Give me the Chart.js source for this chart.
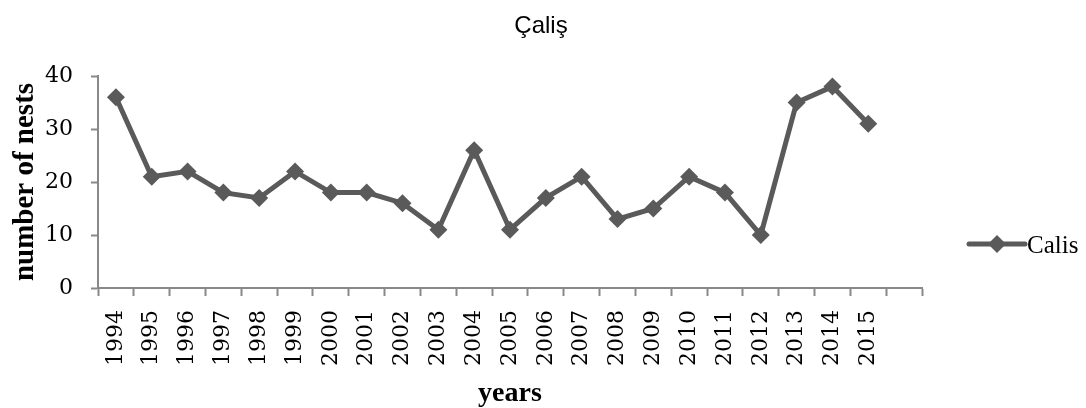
<!DOCTYPE html>
<html>
<head>
<meta charset="utf-8">
<title>Çaliş</title>
<script src="https://cdn.jsdelivr.net/npm/chart.js@4"></script>
<style>
  html, body { margin: 0; padding: 0; background: #ffffff; }
  #wrap { width: 1086px; height: 408px; position: relative; }
</style>
</head>
<body>
<div id="wrap"><canvas id="c" width="1086" height="408"></canvas></div>
<script>
// Nest counts per year at Çaliş beach
const years = ['1994','1995','1996','1997','1998','1999','2000','2001','2002','2003','2004',
               '2005','2006','2007','2008','2009','2010','2011','2012','2013','2014','2015',''];
const nests = [36, 21, 22, 18, 17, 22, 18, 18, 16, 11, 26,
               11, 17, 21, 13, 15, 21, 18, 10, 35, 38, 31, null];
const yTicks = [0, 10, 20, 30, 40];
const chartTitle = 'Çaliş';
const seriesName = 'Calis';

const tickFont = "'DejaVu Serif', serif";
const labelFont = "'Liberation Serif', 'Times New Roman', serif";
const lineColor = '#5a5a5a';
const axisColor = '#888888';

// Title centred on the page, legend entry (line + diamond + label) to the right of the plot
const decorations = {
  id: 'decorations',
  afterDraw(chart) {
    const ctx = chart.ctx;
    ctx.save();
    ctx.fillStyle = '#000000';
    ctx.font = "24px 'Liberation Sans', Arial, sans-serif";
    ctx.textAlign = 'center';
    ctx.textBaseline = 'middle';
    ctx.fillText(chartTitle, 541, 26);

    const y = 244;
    const x0 = 969, x1 = 1025;
    ctx.strokeStyle = lineColor;
    ctx.lineWidth = 5;
    ctx.lineCap = 'round';
    ctx.beginPath();
    ctx.moveTo(x0, y);
    ctx.lineTo(x1, y);
    ctx.stroke();
    ctx.fillStyle = lineColor;
    Chart.helpers.drawPoint(ctx, { pointStyle: 'rectRot', radius: 9, rotation: 0, borderWidth: 0 }, (x0 + x1) / 2, y);
    ctx.fillStyle = '#000000';
    ctx.font = "25px " + labelFont;
    ctx.textAlign = 'left';
    ctx.textBaseline = 'middle';
    ctx.fillText(seriesName, x1 + 2, y + 2);
    ctx.restore();
  }
};

new Chart(document.getElementById('c'), {
  type: 'line',
  data: {
    labels: years,
    datasets: [{
      label: seriesName,
      data: nests,
      borderColor: lineColor,
      backgroundColor: lineColor,
      borderWidth: 5,
      pointStyle: 'rectRot',
      pointRadius: 9,
      pointHoverRadius: 9,
      pointBorderWidth: 0,
      pointBackgroundColor: lineColor,
      tension: 0,
      spanGaps: false
    }]
  },
  options: {
    responsive: false,
    animation: false,
    devicePixelRatio: 1,
    layout: { padding: { left: 0, right: 164, top: 76, bottom: 0 } },
    plugins: {
      legend: { display: false },
      tooltip: { enabled: false },
      title: { display: false }
    },
    scales: {
      x: {
        type: 'category',
        offset: true,
        grid: {
          offset: true,
          drawOnChartArea: false,
          drawTicks: true,
          tickLength: 8,
          tickWidth: 2,
          color: axisColor
        },
        border: { display: true, color: axisColor, width: 2 },
        ticks: {
          color: '#000000',
          font: { family: tickFont, size: 22 },
          minRotation: 90,
          maxRotation: 90,
          autoSkip: false,
          padding: 14
        },
        title: {
          display: true,
          text: 'years',
          color: '#000000',
          font: { family: labelFont, size: 28, weight: 'bold', lineHeight: 1 },
          padding: { top: 0, bottom: 0 }
        },
        afterFit(scale) { scale.height = 120; }
      },
      y: {
        min: 0,
        max: 40,
        afterBuildTicks(scale) { scale.ticks = yTicks.map(v => ({ value: v })); },
        grid: {
          drawOnChartArea: false,
          drawTicks: true,
          tickLength: 7,
          tickWidth: 2,
          color: axisColor
        },
        border: { display: true, color: axisColor, width: 2 },
        ticks: {
          color: '#000000',
          font: { family: tickFont, size: 22 },
          padding: 18
        },
        title: {
          display: true,
          text: 'number of nests',
          color: '#000000',
          font: { family: labelFont, size: 29, weight: 'bold', lineHeight: 1.2 },
          padding: { top: 8, bottom: 0 }
        },
        afterFit(scale) { scale.width = 98; }
      }
    }
  },
  plugins: [decorations]
});
</script>
</body>
</html>
